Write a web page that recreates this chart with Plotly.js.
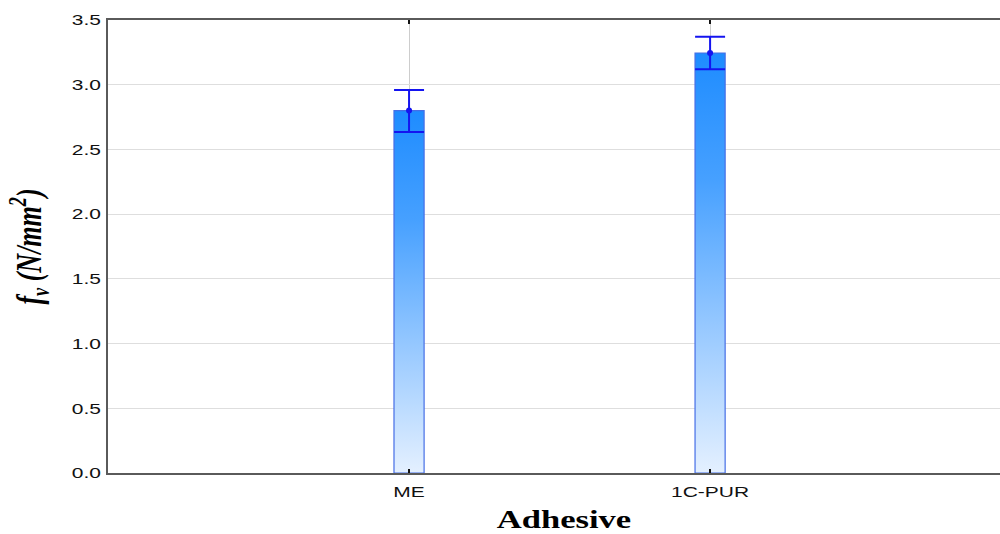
<!DOCTYPE html>
<html>
<head>
<meta charset="utf-8">
<script src="https://cdn.plot.ly/plotly-3.0.1.min.js"></script>
<style>html,body{margin:0;padding:0;background:#fff;overflow:hidden;}#chart{width:1000px;height:534px;}</style>
</head>
<body>
<div id="chart"></div>
<script>
var categories = ["ME", "1C-PUR"];
var means = [2.80, 3.245];
var errPlus = [0.16, 0.125];
var errMinus = [0.165, 0.125];
var yTicks = [0, 0.5, 1.0, 1.5, 2.0, 2.5, 3.0, 3.5];

var barTrace = {
  type: "bar",
  x: categories,
  y: means,
  width: 0.1,
  marker: {color: "rgb(30,144,255)", line: {color: "rgb(70,110,230)", width: 1.2}},
  error_y: {type: "data", symmetric: false, array: errPlus, arrayminus: errMinus,
            color: "rgb(20,20,240)", thickness: 2, width: 15},
  hoverinfo: "skip"
};
var meanTrace = {
  type: "scatter", mode: "markers",
  x: categories, y: means,
  marker: {color: "rgb(20,20,240)", size: 6},
  hoverinfo: "skip"
};

var layout = {
  width: 1000, height: 534,
  margin: {l: 108, r: 0, t: 20, b: 61},
  paper_bgcolor: "#fff", plot_bgcolor: "#fff",
  showlegend: false,
  bargap: 0,
  xaxis: {
    type: "category", range: [-1, 1.963],
    showline: true, mirror: "ticks", linecolor: "rgb(90,90,90)", linewidth: 2,
    ticks: "inside", ticklen: 4, tickwidth: 2, tickcolor: "rgb(20,20,20)",
    ticklabelstandoff: 4,
    showgrid: true, gridcolor: "rgb(205,205,205)", gridwidth: 1,
    tickfont: {family: "Liberation Sans, Arial, sans-serif", size: 15, color: "#111"},
    title: {text: "<b>Adhesive</b>", font: {family: "Liberation Serif, Times New Roman, serif", size: 26, color: "#000"}, standoff: 17}
  },
  yaxis: {
    range: [0, 3.5], tickvals: yTicks, tickformat: ".1f",
    showline: true, mirror: false, linecolor: "rgb(90,90,90)", linewidth: 2,
    ticks: "", zeroline: false,
    ticklabelstandoff: 2,
    showgrid: true, gridcolor: "rgb(222,222,222)", gridwidth: 1,
    tickfont: {family: "Liberation Sans, Arial, sans-serif", size: 15, color: "#111"},
    title: {text: "<b><i>f<sub>v</sub> (N/mm<sup>2</sup>)</i></b>", font: {family: "Liberation Serif, Times New Roman, serif", size: 26, color: "#000"}, standoff: 31}
  }
};

function stretchText(el, sx, sy, dx) {
  var x = parseFloat(el.getAttribute("x")) || 0;
  var y = parseFloat(el.getAttribute("y")) || 0;
  var t = el.getAttribute("transform") || "";
  var pre = dx ? "translate(" + dx + ",0) " : "";
  el.setAttribute("transform", pre + t + " translate(" + x + "," + y + ") scale(" + sx + "," + sy + ") translate(" + (-x) + "," + (-y) + ")");
}

function finish(gd) {
  var svg = gd.querySelector("svg.main-svg");
  if (!svg) return;
  var ns = "http://www.w3.org/2000/svg";
  var defs = svg.querySelector("defs");
  if (!defs) { defs = document.createElementNS(ns, "defs"); svg.insertBefore(defs, svg.firstChild); }
  if (!svg.querySelector("#barGrad")) {
    var g = document.createElementNS(ns, "linearGradient");
    g.setAttribute("id", "barGrad");
    g.setAttribute("x1", "0"); g.setAttribute("y1", "0");
    g.setAttribute("x2", "0"); g.setAttribute("y2", "1");
    var stops = [[0, "rgb(30,140,255)"], [0.3, "rgb(70,160,255)"], [0.65, "rgb(150,200,255)"], [1, "rgb(228,240,255)"]];
    stops.forEach(function (s) {
      var st = document.createElementNS(ns, "stop");
      st.setAttribute("offset", s[0]);
      st.setAttribute("stop-color", s[1]);
      g.appendChild(st);
    });
    defs.appendChild(g);
  }
  gd.querySelectorAll(".barlayer .point path").forEach(function (p) {
    p.style.fill = "url(#barGrad)";
    p.style.fillOpacity = 1;
  });
  gd.querySelectorAll(".xtick text, .ytick text").forEach(function (t) { stretchText(t, 1.4, 1, 0); });
  gd.querySelectorAll(".g-xtitle text").forEach(function (t) { stretchText(t, 1.33, 1, 10); });
  gd.querySelectorAll(".g-ytitle text").forEach(function (t) { stretchText(t, 1, 1.4, 0); });
}

Plotly.newPlot("chart", [barTrace, meanTrace], layout, {staticPlot: true}).then(finish);
</script>
</body>
</html>
